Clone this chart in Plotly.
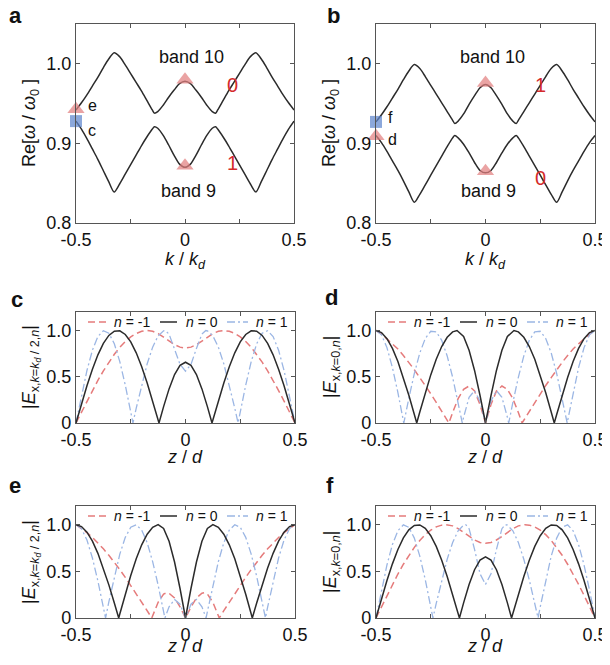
import plotly.graph_objects as go

# ---------------- data ----------------
K = [-0.5,-0.475,-0.45,-0.425,-0.4,-0.375,-0.35,-0.325,-0.3,-0.275,-0.25,-0.225,-0.2,-0.175,-0.15,-0.14,-0.125,-0.1,-0.075,-0.05,-0.025,0,
     0.025,0.05,0.075,0.1,0.125,0.14,0.15,0.175,0.2,0.225,0.25,0.275,0.3,0.325,0.35,0.375,0.4,0.425,0.45,0.475,0.5]
band10_a = [0.942,0.951,0.961,0.972,0.983,0.995,1.006,1.014,1.009,0.999,0.988,0.977,0.966,0.954,0.942,0.938,0.940,0.948,0.958,0.967,0.975,0.978,
            0.975,0.967,0.958,0.948,0.940,0.938,0.942,0.954,0.966,0.977,0.988,0.999,1.009,1.014,1.006,0.995,0.983,0.972,0.961,0.951,0.942]
band9_a = [0.928,0.918,0.906,0.893,0.880,0.866,0.852,0.839,0.849,0.861,0.873,0.885,0.897,0.908,0.918,0.921,0.919,0.910,0.898,0.885,0.874,0.870,
           0.874,0.885,0.898,0.910,0.919,0.921,0.918,0.908,0.897,0.885,0.873,0.861,0.849,0.839,0.852,0.866,0.880,0.893,0.906,0.918,0.928]
band10_b = [0.927,0.936,0.946,0.957,0.968,0.980,0.991,0.999,0.994,0.984,0.973,0.962,0.951,0.940,0.929,0.925,0.928,0.937,0.949,0.960,0.970,0.974,
            0.970,0.960,0.949,0.937,0.928,0.925,0.929,0.940,0.951,0.962,0.973,0.984,0.994,0.999,0.991,0.980,0.968,0.957,0.946,0.936,0.927]
band9_b = [0.910,0.901,0.890,0.878,0.866,0.853,0.839,0.826,0.836,0.848,0.860,0.872,0.884,0.896,0.907,0.910,0.907,0.899,0.888,0.876,0.866,0.863,
           0.866,0.876,0.888,0.899,0.907,0.910,0.907,0.896,0.884,0.872,0.860,0.848,0.836,0.826,0.839,0.853,0.866,0.878,0.890,0.901,0.910]

# marked states (k, Re[w/w0])
mk_a_tri_k = [-0.5, 0, 0]
mk_a_tri_w = [0.943, 0.980, 0.872]
mk_a_sq_k = [-0.5]
mk_a_sq_w = [0.928]
mk_b_tri_k = [-0.5, 0, 0]
mk_b_tri_w = [0.909, 0.976, 0.865]
mk_b_sq_k = [-0.5]
mk_b_sq_w = [0.927]

# field profiles |E_x,n| versus z/d
z_c0 = [-0.5,-0.475,-0.45,-0.425,-0.4,-0.375,-0.35,-0.325,-0.3,-0.275,-0.25,-0.225,-0.2,-0.175,-0.15,-0.125,-0.121,-0.1,-0.075,-0.05,-0.025,0,
        0.025,0.05,0.075,0.1,0.121,0.125,0.15,0.175,0.2,0.225,0.25,0.275,0.3,0.325,0.35,0.375,0.4,0.425,0.45,0.475,0.5]
e_c0 = [0,0.206,0.403,0.582,0.737,0.861,0.947,0.993,0.996,0.957,0.877,0.759,0.608,0.433,0.237,0.033,0,0.177,0.369,0.524,0.623,0.657,
        0.623,0.524,0.369,0.177,0,0.033,0.237,0.433,0.608,0.759,0.877,0.957,0.996,0.993,0.947,0.861,0.737,0.582,0.403,0.206,0]
z_cm1 = [-0.5,-0.475,-0.45,-0.425,-0.4,-0.375,-0.35,-0.325,-0.3,-0.275,-0.25,-0.225,-0.2,-0.175,-0.15,-0.125,-0.1,-0.075,-0.05,-0.025,0,
         0.025,0.05,0.075,0.1,0.125,0.15,0.175,0.2,0.225,0.25,0.275,0.3,0.325,0.35,0.375,0.4,0.425,0.45,0.475,0.5]
e_cm1 = [0,0.119,0.237,0.351,0.461,0.563,0.658,0.743,0.818,0.881,0.931,0.968,0.991,1.0,0.992,0.967,0.929,0.886,0.847,0.820,0.81,
         0.820,0.847,0.886,0.929,0.967,0.992,1.0,0.991,0.968,0.931,0.881,0.818,0.743,0.658,0.563,0.461,0.351,0.237,0.119,0]
z_cp1 = [-0.5,-0.475,-0.45,-0.425,-0.4,-0.375,-0.35,-0.325,-0.3,-0.275,-0.25,-0.24,-0.225,-0.2,-0.175,-0.15,-0.125,-0.1,-0.093,-0.075,-0.05,-0.025,0,
         0.025,0.05,0.075,0.093,0.1,0.125,0.15,0.175,0.2,0.225,0.24,0.25,0.275,0.3,0.325,0.35,0.375,0.4,0.425,0.45,0.475,0.5]
e_cp1 = [0,0.298,0.568,0.787,0.935,0.998,0.971,0.856,0.663,0.410,0.120,0,0.160,0.414,0.640,0.820,0.942,0.997,1.0,0.961,0.806,0.634,0.56,
         0.634,0.806,0.961,1.0,0.997,0.942,0.820,0.640,0.414,0.160,0,0.120,0.410,0.663,0.856,0.971,0.998,0.935,0.787,0.568,0.298,0]

z_d0 = [-0.5,-0.475,-0.45,-0.425,-0.4,-0.375,-0.35,-0.325,-0.314,-0.3,-0.275,-0.25,-0.225,-0.2,-0.175,-0.15,-0.13,-0.1,-0.075,-0.05,-0.025,0,
        0.025,0.05,0.075,0.1,0.13,0.15,0.175,0.2,0.225,0.25,0.275,0.3,0.314,0.325,0.35,0.375,0.4,0.425,0.45,0.475,0.5]
e_d0 = [1.0,0.978,0.912,0.806,0.664,0.492,0.299,0.092,0,0.119,0.327,0.520,0.689,0.827,0.927,0.985,1.0,0.935,0.787,0.568,0.297,0,
        0.297,0.568,0.787,0.935,1.0,0.985,0.927,0.827,0.689,0.520,0.327,0.119,0,0.092,0.299,0.492,0.664,0.806,0.912,0.978,1.0]
z_dm1 = [-0.5,-0.475,-0.45,-0.425,-0.4,-0.375,-0.35,-0.325,-0.3,-0.275,-0.25,-0.225,-0.2,-0.175,-0.167,-0.15,-0.125,-0.1,-0.075,-0.05,-0.025,0,
         0.025,0.05,0.075,0.1,0.125,0.15,0.167,0.175,0.2,0.225,0.25,0.275,0.3,0.325,0.35,0.375,0.4,0.425,0.45,0.475,0.5]
e_dm1 = [1.0,0.96,0.91,0.856,0.80,0.73,0.655,0.576,0.49,0.406,0.316,0.222,0.127,0.03,0,0.114,0.263,0.364,0.40,0.346,0.20,0,
         0.20,0.346,0.40,0.364,0.263,0.114,0,0.03,0.127,0.222,0.316,0.406,0.49,0.576,0.655,0.73,0.80,0.856,0.91,0.96,1.0]
z_dp1 = [-0.5,-0.475,-0.45,-0.425,-0.4,-0.375,-0.373,-0.35,-0.325,-0.3,-0.275,-0.25,-0.225,-0.2,-0.175,-0.15,-0.125,-0.106,-0.1,-0.075,-0.05,-0.025,0,
         0.025,0.05,0.075,0.1,0.106,0.125,0.15,0.175,0.2,0.225,0.25,0.275,0.3,0.325,0.35,0.373,0.375,0.4,0.425,0.45,0.475,0.5]
e_dp1 = [1.0,0.953,0.815,0.599,0.329,0.025,0,0.267,0.535,0.757,0.914,0.992,0.986,0.894,0.725,0.494,0.222,0,0.062,0.278,0.349,0.236,0,
         0.236,0.349,0.278,0.062,0,0.222,0.494,0.725,0.894,0.986,0.992,0.914,0.757,0.535,0.267,0,0.025,0.329,0.599,0.815,0.953,1.0]

z_e0 = [-0.5,-0.475,-0.45,-0.425,-0.4,-0.375,-0.35,-0.325,-0.305,-0.3,-0.275,-0.25,-0.225,-0.2,-0.175,-0.15,-0.125,-0.1,-0.075,-0.05,-0.025,0,
        0.025,0.05,0.075,0.1,0.125,0.15,0.175,0.2,0.225,0.25,0.275,0.3,0.305,0.325,0.35,0.375,0.4,0.425,0.45,0.475,0.5]
e_e0 = [1.0,0.980,0.920,0.823,0.693,0.535,0.355,0.160,0,0.043,0.255,0.455,0.634,0.784,0.898,0.971,1.0,0.960,0.822,0.600,0.316,0,
        0.316,0.600,0.822,0.960,1.0,0.971,0.898,0.784,0.634,0.455,0.255,0.043,0,0.160,0.355,0.535,0.693,0.823,0.920,0.980,1.0]
z_em1 = [-0.5,-0.475,-0.45,-0.425,-0.4,-0.375,-0.35,-0.325,-0.3,-0.275,-0.25,-0.225,-0.2,-0.175,-0.154,-0.15,-0.125,-0.1,-0.086,-0.075,-0.05,-0.025,0,
         0.025,0.05,0.075,0.086,0.1,0.125,0.15,0.154,0.175,0.2,0.225,0.25,0.275,0.3,0.325,0.35,0.375,0.4,0.425,0.45,0.475,0.5]
e_em1 = [1.0,0.96,0.915,0.863,0.805,0.741,0.672,0.598,0.519,0.436,0.35,0.26,0.17,0.078,0,0.025,0.168,0.256,0.27,0.265,0.214,0.119,0,
         0.119,0.214,0.265,0.27,0.256,0.168,0.025,0,0.078,0.17,0.26,0.35,0.436,0.519,0.598,0.672,0.741,0.805,0.863,0.915,0.96,1.0]
z_ep1 = [-0.5,-0.475,-0.45,-0.425,-0.4,-0.375,-0.365,-0.35,-0.325,-0.3,-0.275,-0.25,-0.225,-0.2,-0.175,-0.15,-0.125,-0.1,-0.094,-0.075,-0.05,-0.025,0,
         0.025,0.05,0.075,0.094,0.1,0.125,0.15,0.175,0.2,0.225,0.25,0.275,0.3,0.325,0.35,0.365,0.375,0.4,0.425,0.45,0.475,0.5]
e_ep1 = [1.0,0.958,0.835,0.643,0.396,0.116,0,0.173,0.447,0.684,0.864,0.972,0.999,0.942,0.807,0.604,0.352,0.069,0,0.119,0.199,0.148,0,
         0.148,0.199,0.119,0,0.069,0.352,0.604,0.807,0.942,0.999,0.972,0.864,0.684,0.447,0.173,0,0.116,0.396,0.643,0.835,0.958,1.0]

z_f0 = [-0.5,-0.475,-0.45,-0.425,-0.4,-0.375,-0.35,-0.325,-0.3,-0.275,-0.25,-0.225,-0.2,-0.175,-0.15,-0.125,-0.119,-0.1,-0.075,-0.05,-0.025,0,
        0.025,0.05,0.075,0.1,0.119,0.125,0.15,0.175,0.2,0.225,0.25,0.275,0.3,0.325,0.35,0.375,0.4,0.425,0.45,0.475,0.5]
e_f0 = [0,0.205,0.401,0.580,0.734,0.858,0.945,0.992,0.997,0.960,0.882,0.767,0.619,0.445,0.253,0.049,0,0.162,0.359,0.517,0.620,0.655,
        0.620,0.517,0.359,0.162,0,0.049,0.253,0.445,0.619,0.767,0.882,0.960,0.997,0.992,0.945,0.858,0.734,0.580,0.401,0.205,0]
z_fm1 = [-0.5,-0.475,-0.45,-0.425,-0.4,-0.375,-0.35,-0.325,-0.3,-0.275,-0.25,-0.225,-0.2,-0.18,-0.15,-0.125,-0.1,-0.075,-0.05,-0.025,0,
         0.025,0.05,0.075,0.1,0.125,0.15,0.18,0.2,0.225,0.25,0.275,0.3,0.325,0.35,0.375,0.4,0.425,0.45,0.475,0.5]
e_fm1 = [0,0.122,0.243,0.360,0.471,0.576,0.672,0.757,0.831,0.893,0.941,0.976,0.995,1.0,0.987,0.957,0.917,0.874,0.836,0.809,0.80,
         0.809,0.836,0.874,0.917,0.957,0.987,1.0,0.995,0.976,0.941,0.893,0.831,0.757,0.672,0.576,0.471,0.360,0.243,0.122,0]
z_fp1 = [-0.5,-0.475,-0.45,-0.425,-0.4,-0.375,-0.35,-0.325,-0.3,-0.275,-0.25,-0.24,-0.225,-0.2,-0.175,-0.15,-0.125,-0.1,-0.09,-0.075,-0.05,-0.025,0,
         0.025,0.05,0.075,0.09,0.1,0.125,0.15,0.175,0.2,0.225,0.24,0.25,0.275,0.3,0.325,0.35,0.375,0.4,0.425,0.45,0.475,0.5]
e_fp1 = [0,0.298,0.568,0.787,0.935,0.998,0.971,0.856,0.663,0.410,0.120,0,0.156,0.407,0.629,0.809,0.934,0.995,1.0,0.957,0.736,0.474,0.36,
         0.474,0.736,0.957,1.0,0.995,0.934,0.809,0.629,0.407,0.156,0,0.120,0.410,0.663,0.856,0.971,0.998,0.935,0.787,0.568,0.298,0]

x_ticks = [-0.5, 0, 0.5]
x_ticktext = ["-0.5", "0", "0.5"]
x_minor = [-0.25, 0.25]
w_ticks = [0.8, 0.9, 1.0]
w_ticktext = ["0.8", "0.9", "1.0"]
e_ticks = [0, 0.5, 1.0]
e_ticktext = ["0", "0.5", "1.0"]
legend_names = ["<i>n</i> = -1", "<i>n</i> = 0", "<i>n</i> = 1"]

for a, b in [(K, band10_a), (K, band9_a), (K, band10_b), (K, band9_b),
             (z_c0, e_c0), (z_cm1, e_cm1), (z_cp1, e_cp1), (z_d0, e_d0), (z_dm1, e_dm1), (z_dp1, e_dp1),
             (z_e0, e_e0), (z_em1, e_em1), (z_ep1, e_ep1), (z_f0, e_f0), (z_fm1, e_fm1), (z_fp1, e_fp1)]:
    assert len(a) == len(b), (len(a), len(b))

# ---------------- style ----------------
# the page body has an 8 px margin, so the figure starts at (8, 8) in the window;
# keep the page from overflowing the 610x665 window
OFF = 8
W, H = 602, 649
FONT = "Liberation Sans, Arial, sans-serif"
BLACK = "#2b2b2b"
RED = "#e57b7b"
BLUE = "#9bb6e4"
TXTRED = "#d42b2b"
FRAME = "#555555"

def px(x):
    return (x - OFF) / W

def py(y):
    return 1 - (y - OFF) / H

fig = go.Figure()

# panel boxes in window pixels: (left, right, top, bottom)
boxes = {
    1: (76, 294, 24, 223),
    2: (376, 595, 24, 223),
    3: (76, 295, 312, 423),
    4: (376, 595, 312, 423),
    5: (76, 295, 506, 618),
    6: (376, 595, 506, 618),
}

def ax(n):
    return ("x" if n == 1 else f"x{n}"), ("y" if n == 1 else f"y{n}")

# bands
for n, (b10, b9) in [(1, (band10_a, band9_a)), (2, (band10_b, band9_b))]:
    xa, ya = ax(n)
    for band in (b10, b9):
        fig.add_trace(go.Scatter(x=K, y=band, mode="lines", xaxis=xa, yaxis=ya,
                                 line=dict(color=BLACK, width=1.5, shape="spline", smoothing=0.8),
                                 showlegend=False, hoverinfo="skip"))

tri_color = "rgba(226,128,128,0.72)"
sq_color = "rgba(95,135,205,0.72)"
for n, (tk, tw, sk, sw) in [(1, (mk_a_tri_k, mk_a_tri_w, mk_a_sq_k, mk_a_sq_w)),
                            (2, (mk_b_tri_k, mk_b_tri_w, mk_b_sq_k, mk_b_sq_w))]:
    xa, ya = ax(n)
    fig.add_trace(go.Scatter(x=tk, y=tw, mode="markers", xaxis=xa, yaxis=ya, cliponaxis=False,
                             marker=dict(symbol="triangle-up", size=15, color=tri_color, line=dict(width=0)),
                             showlegend=False, hoverinfo="skip"))
    fig.add_trace(go.Scatter(x=sk, y=sw, mode="markers", xaxis=xa, yaxis=ya, cliponaxis=False,
                             marker=dict(symbol="square", size=12, color=sq_color, line=dict(width=0)),
                             showlegend=False, hoverinfo="skip"))

# field profiles
profiles = {
    3: [(z_cm1, e_cm1), (z_cp1, e_cp1), (z_c0, e_c0)],
    4: [(z_dm1, e_dm1), (z_dp1, e_dp1), (z_d0, e_d0)],
    5: [(z_em1, e_em1), (z_ep1, e_ep1), (z_e0, e_e0)],
    6: [(z_fm1, e_fm1), (z_fp1, e_fp1), (z_f0, e_f0)],
}
styles = [dict(color=RED, width=1.5, dash="7px,4px"),
          dict(color=BLUE, width=1.3, dash="8px,3px,2px,3px"),
          dict(color=BLACK, width=1.5)]
for n, series in profiles.items():
    xa, ya = ax(n)
    for (zz, ee), st in zip(series, styles):
        fig.add_trace(go.Scatter(x=zz, y=ee, mode="lines", xaxis=xa, yaxis=ya,
                                 line=st, showlegend=False, hoverinfo="skip"))

axis_common = dict(showline=True, mirror="ticks", linecolor=FRAME, linewidth=1.3,
                   ticks="inside", ticklen=4, tickwidth=1.2, tickcolor=FRAME,
                   showgrid=False, zeroline=False, automargin=False,
                   tickfont=dict(family=FONT, size=18, color="#111"))

layout = dict(template="none", width=W, height=H, autosize=False, margin=dict(l=0, r=0, t=0, b=0, pad=0),
              paper_bgcolor="white", plot_bgcolor="white", showlegend=False,
              font=dict(family=FONT, color="#111"))
for n, (l, r, t, b) in boxes.items():
    xk = "xaxis" if n == 1 else f"xaxis{n}"
    yk = "yaxis" if n == 1 else f"yaxis{n}"
    xa, ya = ax(n)
    layout[xk] = dict(axis_common, domain=[px(l), px(r)], range=[-0.5, 0.5], anchor=ya,
                      tickvals=x_ticks, ticktext=x_ticktext,
                      minor=dict(tickvals=x_minor, ticks="inside", ticklen=4, tickwidth=1.2,
                                 tickcolor=FRAME, showgrid=False))
    if n <= 2:
        layout[yk] = dict(axis_common, domain=[py(b), py(t)], range=[0.8, 1.05], anchor=xa,
                          tickvals=w_ticks, ticktext=w_ticktext)
    else:
        layout[yk] = dict(axis_common, domain=[py(b), py(t)], range=[0, 1.2], anchor=xa,
                          tickvals=e_ticks, ticktext=e_ticktext)
fig.update_layout(**layout)

ann = []
def text(x, y, s, size=18, color="#111", xanchor="center", yanchor="middle", angle=0, bold=False):
    ann.append(dict(x=px(x), y=py(y), xref="paper", yref="paper", text=(f"<b>{s}</b>" if bold else s),
                    showarrow=False, xanchor=xanchor, yanchor=yanchor, textangle=angle,
                    font=dict(family=FONT, size=size, color=color)))

def dtext(n, x, y, s, size=18, color="#111", xanchor="center"):
    xa, ya = ax(n)
    ann.append(dict(x=x, y=y, xref=xa, yref=ya, text=s, showarrow=False, xanchor=xanchor,
                    yanchor="middle", font=dict(family=FONT, size=size, color=color)))

# panel letters
for (x, y, s) in [(15, 15, "a"), (333, 15, "b"), (17, 299, "c"), (331, 297, "d"), (15, 485, "e"), (330, 485, "f")]:
    text(x, y, s, size=22, bold=True)

# band-structure panels annotations
for n in (1, 2):
    dtext(n, 0.03, 1.009, "band 10", size=18)
    dtext(n, 0.015, 0.840, "band 9", size=18)
dtext(1, 0.216, 0.974, "0", size=20, color=TXTRED)
dtext(1, 0.216, 0.875, "1", size=20, color=TXTRED)
dtext(2, 0.249, 0.974, "1", size=20, color=TXTRED)
dtext(2, 0.249, 0.857, "0", size=20, color=TXTRED)
dtext(1, -0.455, 0.947, "e", size=16, xanchor="left")
dtext(1, -0.455, 0.916, "c", size=16, xanchor="left")
dtext(2, -0.455, 0.932, "f", size=16, xanchor="left")
dtext(2, -0.455, 0.905, "d", size=16, xanchor="left")

# axis titles
ytitle_w = "Re[<i>ω</i> / <i>ω</i><sub>0</sub> ]"
for x0 in (31, 331):
    text(x0, 123, ytitle_w, size=18, angle=-90)
xtitle_k = "<i>k</i> / <i>k</i><sub><i>d</i></sub>"
text(185, 260, xtitle_k, size=18)
text(485, 260, xtitle_k, size=18)
xtitle_z = "<i>z</i> / <i>d</i>"
for (x0, y0) in [(185, 457), (485, 457), (185, 646), (485, 646)]:
    text(x0, y0, xtitle_z, size=18)
yt_half = "|<i>E</i><sub>x,<i>k</i>=<i>k<sub>d</sub></i> / 2,<i>n</i></sub>|"
yt_zero = "|<i>E</i><sub>x,<i>k</i>=0,<i>n</i></sub>|"
text(31, 367, yt_half, size=18, angle=-90)
text(331, 367, yt_zero, size=18, angle=-90)
text(31, 562, yt_half, size=18, angle=-90)
text(331, 562, yt_zero, size=18, angle=-90)

# in-panel legends (manual, compact)
shapes = []
for n in (3, 4, 5, 6):
    l, r, t, b = boxes[n]
    yl = t + 10
    keys = [(l + 12, l + 31, styles[0], l + 36), (l + 84, l + 101, styles[2], l + 108), (l + 151, l + 172, styles[1], l + 178)]
    for (x0, x1, st, tx), name in zip(keys, legend_names):
        shapes.append(dict(type="line", xref="paper", yref="paper", x0=px(x0), x1=px(x1), y0=py(yl), y1=py(yl),
                           line=dict(color=st["color"], width=st["width"], dash=st.get("dash", "solid"))))
        text(tx, yl, name, size=14, xanchor="left")

fig.update_layout(annotations=ann, shapes=shapes)
fig.write_html("out.html")
